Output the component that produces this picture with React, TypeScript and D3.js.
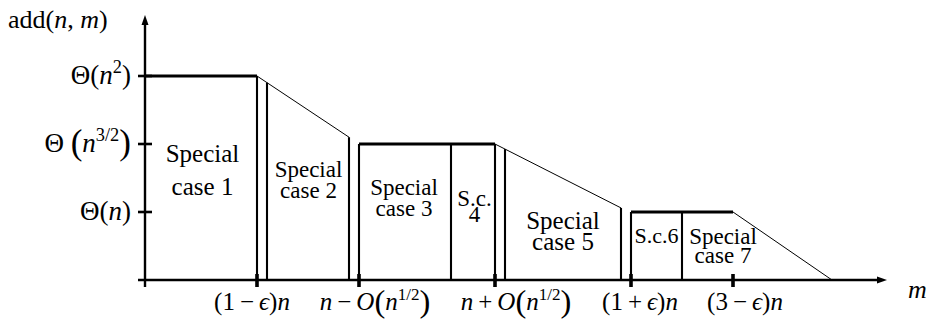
import React from "react";
import * as d3 from "d3";

type Seg = { t: string; i?: boolean; sup?: boolean; big?: boolean };

// ---------- data ----------
const levelValues = [1, 2, 3];
const levelLabels: Seg[][] = [
  [{ t: "Θ(" }, { t: "n", i: true }, { t: ")" }],
  [{ t: "Θ " }, { t: "(", big: true }, { t: "n", i: true }, { t: "3/2", sup: true }, { t: ")", big: true }],
  [{ t: "Θ(" }, { t: "n", i: true }, { t: "2", sup: true }, { t: ")" }],
];

const xTickValues = [1.12, 2.14, 3.5, 4.86, 5.88];
const xTickLabels: Seg[][] = [
  [{ t: "(1\u2009−\u2009" }, { t: "ϵ", i: true }, { t: ")" }, { t: "n", i: true }],
  [{ t: "n", i: true }, { t: "\u2009−\u2009" }, { t: "O", i: true }, { t: "(", big: true }, { t: "n", i: true }, { t: "1/2", sup: true }, { t: ")", big: true }],
  [{ t: "n", i: true }, { t: "\u2009+\u2009" }, { t: "O", i: true }, { t: "(", big: true }, { t: "n", i: true }, { t: "1/2", sup: true }, { t: ")", big: true }],
  [{ t: "(1\u2009+\u2009" }, { t: "ϵ", i: true }, { t: ")" }, { t: "n", i: true }],
  [{ t: "(3\u2009−\u2009" }, { t: "ϵ", i: true }, { t: ")" }, { t: "n", i: true }],
];

const plateauStart = [0, 2.14, 4.86];
const plateauEnd = [1.12, 3.5, 5.88];
const plateauLevel = [3, 2, 1];
const slopeEndX = [2.04, 4.76, 6.87];
const slopeEndLevel = [2.1, 1.06, 0];
const dividerX = [1.12, 1.22, 2.04, 2.14, 3.06, 3.5, 3.6, 4.76, 4.86, 5.37];

const caseLabels: string[][] = [
  ["Special", "case 1"],
  ["Special", "case 2"],
  ["Special", "case 3"],
  ["S.c.", "4"],
  ["Special", "case 5"],
  ["S.c.6"],
  ["Special", "case 7"],
];
const caseCenters = [0.575, 1.635, 2.59, 3.295, 4.18, 5.115, 5.78];

const yAxisTitle: Seg[] = [{ t: "add(" }, { t: "n", i: true }, { t: ", " }, { t: "m", i: true }, { t: ")" }];
const xAxisTitle: Seg[] = [{ t: "m", i: true }];

// ---------- layout ----------
const W = 930;
const H = 328;
const X0 = 145;
const XARROW = 887;
const YBASE = 280;
const YTOP3 = 76;
const YARROW = 15;
const FONT = "'Liberation Serif', 'Times New Roman', serif";

const caseLayout = [
  { size: 25, base: [162, 195] },
  { size: 23, base: [177, 198] },
  { size: 23, base: [195, 216] },
  { size: 23, base: [206, 222] },
  { size: 25, base: [229, 250] },
  { size: 22, base: [243] },
  { size: 23, base: [244, 263] },
];
const tickLabelDx = [-5, 16, 21, 9, 12];

function Rich({ segs, x, y, size, anchor }: { segs: Seg[]; x: number; y: number; size: number; anchor?: string }) {
  let prev = 0;
  return (
    <text x={x} y={y} fontSize={size} textAnchor={anchor || "start"} fill="#000">
      {segs.map((s, k) => {
        const shift = s.sup ? -0.42 * size : s.big ? 0.07 * size : 0;
        const dy = shift - prev;
        prev = shift;
        return (
          <tspan
            key={k}
            dy={dy}
            fontStyle={s.i ? "italic" : undefined}
            fontSize={s.sup ? size * 0.68 : s.big ? size * 1.3 : undefined}
            style={{ whiteSpace: "pre" }}
          >
            {s.t}
          </tspan>
        );
      })}
    </text>
  );
}

export default function App() {
  const x = d3.scaleLinear().domain([0, 7.42]).range([X0, XARROW]);
  const y = d3.scaleLinear().domain([0, 3]).range([YBASE, YTOP3]);

  const topAt = (v: number): number => {
    for (let k = 0; k < plateauStart.length; k++) {
      if (v >= plateauStart[k] - 1e-9 && v <= plateauEnd[k] + 1e-9) return plateauLevel[k];
    }
    for (let k = 0; k < slopeEndX.length; k++) {
      if (v > plateauEnd[k] && v <= slopeEndX[k] + 1e-9) {
        const f = d3.scaleLinear().domain([plateauEnd[k], slopeEndX[k]]).range([plateauLevel[k], slopeEndLevel[k]]);
        return f(v);
      }
    }
    return 0;
  };

  const line = d3.line<[number, number]>().x((d) => x(d[0])).y((d) => y(d[1]));

  return (
    <svg
      width={W}
      height={H}
      style={{ position: "absolute", left: 0, top: 0, background: "#fff" }}
      fontFamily={FONT}
    >
      <rect width={W} height={H} fill="#fff" />
      {/* dividers */}
      {dividerX.map((v, k) => (
        <line key={"d" + k} x1={x(v)} x2={x(v)} y1={y(0)} y2={y(topAt(v))} stroke="#000" strokeWidth={2.1} />
      ))}
      {/* slopes */}
      {slopeEndX.map((v, k) => (
        <path
          key={"s" + k}
          d={line([
            [plateauEnd[k], plateauLevel[k]],
            [v, slopeEndLevel[k]],
          ]) as string}
          stroke="#000"
          strokeWidth={1}
          fill="none"
        />
      ))}
      {/* plateaus */}
      {plateauStart.map((v, k) => (
        <line key={"p" + k} x1={x(v)} x2={x(plateauEnd[k])} y1={y(plateauLevel[k])} y2={y(plateauLevel[k])} stroke="#000" strokeWidth={3} />
      ))}
      {/* axes */}
      <line x1={X0 - 7} x2={XARROW - 8} y1={YBASE} y2={YBASE} stroke="#000" strokeWidth={2.6} />
      <line x1={X0} x2={X0} y1={YBASE + 7} y2={YARROW + 8} stroke="#000" strokeWidth={2.4} />
      <path d={`M${XARROW},${YBASE} L${XARROW - 10},${YBASE - 3.5} L${XARROW - 10},${YBASE + 3.5} Z`} fill="#000" />
      <path d={`M${X0},${YARROW} L${X0 - 3.5},${YARROW + 10} L${X0 + 3.5},${YARROW + 10} Z`} fill="#000" />
      {/* y ticks */}
      {levelValues.map((v, k) => (
        <g key={"yt" + k}>
          <line x1={X0 - 7} x2={X0 + 7} y1={y(v)} y2={y(v)} stroke="#000" strokeWidth={2.6} />
          <Rich segs={levelLabels[k]} x={X0 - 14} y={y(v) + 8} size={27} anchor="end" />
        </g>
      ))}
      {/* x ticks */}
      {xTickValues.map((v, k) => (
        <g key={"xt" + k}>
          <line x1={x(v)} x2={x(v)} y1={YBASE - 6} y2={YBASE + 7} stroke="#000" strokeWidth={3.6} />
          <Rich segs={xTickLabels[k]} x={x(v) + tickLabelDx[k]} y={YBASE + 30} size={25} anchor="middle" />
        </g>
      ))}
      {/* case labels */}
      {caseLabels.map((lines, k) =>
        lines.map((t, j) => (
          <text
            key={"c" + k + "_" + j}
            x={x(caseCenters[k])}
            y={caseLayout[k].base[j]}
            fontSize={caseLayout[k].size}
            textAnchor="middle"
            fill="#000"
          >
            {t}
          </text>
        ))
      )}
      {/* axis titles */}
      <Rich segs={yAxisTitle} x={8} y={28} size={26} />
      <Rich segs={xAxisTitle} x={908} y={298} size={26} />
    </svg>
  );
}
